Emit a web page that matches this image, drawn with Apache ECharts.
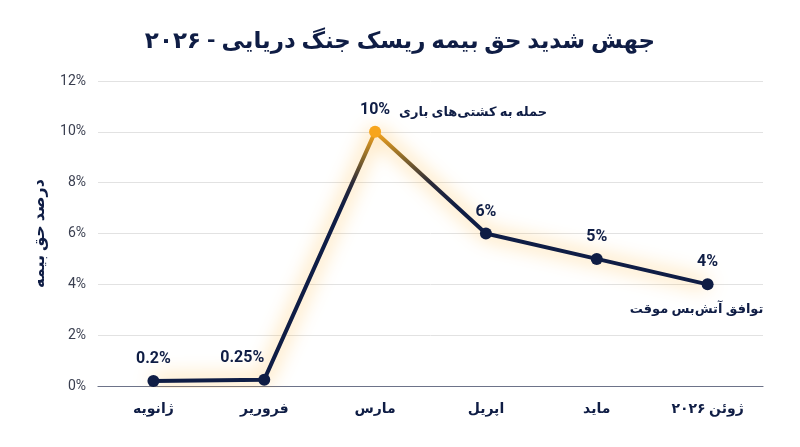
<!DOCTYPE html>
<html>
<head>
<meta charset="utf-8">
<script src="https://cdn.jsdelivr.net/npm/echarts@6/dist/echarts.min.js"></script>
<style>
  html, body { margin: 0; padding: 0; background: #fff; }
  #main { width: 800px; height: 447px; }
</style>
</head>
<body>
<div id="main"></div>
<script>
// داده‌ها
var months = ['ژانویه', 'فروریر', 'مارس', 'اپریل', 'مايد', 'ژوئن ۲۰۲۶'];
var premium = [0.2, 0.25, 10, 6, 5, 4];
var yTicks = [0, 2, 4, 6, 8, 10, 12];
var notes = [
  { month: 'مارس', value: 10, text: 'حمله به کشتی‌های باری' },
  { month: 'ژوئن ۲۰۲۶', value: 4, text: 'توافق آتش‌بس موقت' }
];

var navy = '#0f1d45';
var font = 'Roboto, "DejaVu Sans", sans-serif';

var chart = echarts.init(document.getElementById('main'));

// برچسب فوریه کمی به چپ تا روی خط نیفتد
var points = premium.map(function (v, i) {
  if (i === 1) return { value: v, label: { offset: [-22, 0] } };
  return v;
});

/*تنظیمات نمودار*/
var option = {
  backgroundColor: '#fff',
  title: {
    text: 'جهش شدید حق بیمه ریسک جنگ دریایی - ۲۰۲۶',
    left: 'center',
    top: 26,
    textStyle: { color: navy, fontSize: 23, fontWeight: 'bold', fontFamily: font }
  },
  grid: { left: 98, right: 37, top: 81, bottom: 61 },
  visualMap: {
    show: false,
    type: 'continuous',
    seriesIndex: 0,
    dimension: 1,
    min: 0,
    max: 10,
    inRange: {
      color: [navy, navy, navy, navy, navy, navy, navy, navy, '#2b2a38', '#8c6a2a', '#f7a51c']
    }
  },
  xAxis: {
    type: 'category',
    data: months,
    boundaryGap: true,
    axisLine: { lineStyle: { color: '#6d7389', width: 1.2 } },
    axisTick: { show: false },
    axisLabel: { color: navy, fontSize: 14, fontWeight: 'bold', margin: 16, fontFamily: font }
  },
  yAxis: {
    type: 'value',
    min: yTicks[0],
    max: yTicks[yTicks.length - 1],
    interval: 2,
    name: 'درصد حق بیمه',
    nameLocation: 'middle',
    nameGap: 50,
    nameTextStyle: { color: navy, fontSize: 16, fontWeight: 'bold', fontFamily: font },
    axisLine: { show: false },
    axisTick: { show: false },
    axisLabel: { color: '#3a3f50', fontSize: 14, margin: 12, formatter: '{value}%', fontFamily: font },
    splitLine: { lineStyle: { color: '#e2e2e2', width: 1 } }
  },
  series: [{
    type: 'line',
    data: points,
    symbol: 'circle',
    symbolSize: 12,
    lineStyle: {
      width: 4,
      shadowColor: 'rgba(255, 160, 0, 0.85)',
      shadowBlur: 20
    },
    label: {
      show: true,
      position: 'top',
      distance: 8,
      color: navy,
      fontSize: 16,
      fontWeight: 'bold',
      fontFamily: font,
      formatter: function (p) { return p.value + '%'; }
    },
    markPoint: {
      symbol: 'circle',
      symbolSize: 1,
      itemStyle: { color: 'rgba(0,0,0,0)' },
      label: {
        show: true,
        color: navy,
        fontSize: 13,
        fontWeight: 'bold',
        fontFamily: font,
        formatter: function (p) { return p.name; }
      },
      data: [
        { name: notes[0].text, coord: [notes[0].month, notes[0].value], label: { offset: [98, -19] } },
        { name: notes[1].text, coord: [notes[1].month, notes[1].value], label: { offset: [-11, 25] } }
      ]
    }
  }]
};
chart.setOption(option);
</script>
</body>
</html>
